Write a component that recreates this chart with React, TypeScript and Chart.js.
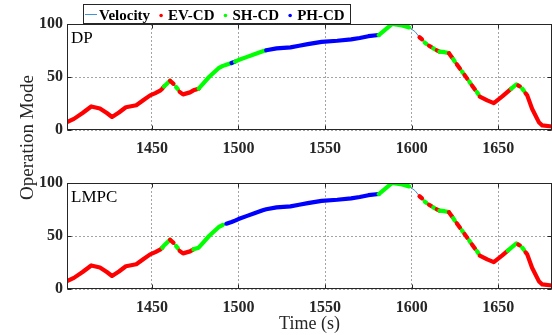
import { useEffect, useRef } from 'react';
import { Chart, registerables } from 'chart.js';

Chart.register(...registerables);

// ---------------- data ----------------
const timeS = [
  1401, 1405, 1410, 1415, 1420, 1424, 1427, 1431, 1435, 1441,
  1445, 1449, 1452, 1455, 1456, 1457, 1460.5, 1462.5, 1464, 1465,
  1466, 1468, 1472, 1474, 1477, 1480, 1483, 1488.5, 1491, 1493,
  1496, 1498, 1500, 1505, 1510, 1514, 1516, 1522, 1530, 1535,
  1540, 1548, 1557, 1565, 1570, 1575, 1581, 1588.7, 1593.5, 1598.5,
  1602, 1604.5, 1606, 1607.5, 1608.5, 1610, 1611.5, 1612.5, 1613.5, 1614.5,
  1616, 1619, 1621.5, 1623.5, 1624, 1625, 1626, 1628, 1629, 1630,
  1630.5, 1632.2, 1633.2, 1634.2, 1634.8, 1636.6, 1637.6, 1638.6, 1639.3, 1643.6,
  1647.4, 1652.3, 1655.5, 1657.5, 1660.5, 1661.5, 1662.5, 1663.8, 1665, 1665.8,
  1666.7, 1669.5, 1673.4, 1675.4, 1681,
];

const velocityKmh = [
  7.4, 10.5, 16.0, 22.2, 20.3, 16.0, 12.3, 16.5, 21.5, 23.3,
  28.0, 32.7, 34.8, 37.4, 39.0, 41.0, 46.5, 43.5, 40.5, 38.5,
  36.0, 33.6, 35.5, 37.4, 39.0, 44.5, 50.0, 58.3, 60.5, 61.6,
  63.2, 64.5, 66.0, 69.0, 72.0, 74.2, 75.2, 77.0, 78.0, 79.5,
  81.0, 83.2, 84.2, 85.5, 86.8, 88.5, 89.6, 100, 99.0, 96.8,
  92.7, 87.5, 85.5, 82.5, 81.2, 79.5, 78.0, 77.0, 76.0, 75.2,
  74.0, 73.4, 72.5, 68.0, 66.7, 64.3, 62.0, 57.5, 55.2, 53.0,
  51.8, 48.0, 45.7, 43.4, 42.0, 38.0, 35.8, 33.5, 31.5, 28.0,
  25.4, 31.7, 36.2, 39.0, 43.0, 42.0, 41.0, 39.0, 36.5, 34.5,
  32.7, 20.0, 7.4, 4.3, 3.3,
];

// mode of the segment that starts at each sample ('' = velocity line only)
const modeDP = [
  'EV', 'EV', 'EV', 'EV', 'EV', 'EV', 'EV', 'EV', 'EV', 'EV',
  'EV', 'EV', 'EV', 'EV', 'EV', 'SH', 'EV', '', 'SH', '',
  'EV', 'EV', 'EV', 'EV', 'SH', 'SH', 'SH', 'SH', 'SH', 'SH',
  'PH', 'SH', 'SH', 'SH', 'SH', 'SH', 'PH', 'PH', 'PH', 'PH',
  'PH', 'PH', 'PH', 'PH', 'PH', 'PH', 'SH', 'SH', 'SH', '',
  '', 'EV', '', 'SH', '', 'EV', '', 'SH', '', 'EV',
  'SH', 'SH', 'EV', '', 'SH', '', 'EV', '', 'SH', '',
  'EV', '', 'SH', '', 'EV', '', 'SH', '', 'EV', 'EV',
  'EV', 'EV', 'EV', 'SH', 'SH', 'EV', '', 'SH', '', 'EV',
  'EV', 'EV', 'EV', 'EV', '',
];

const modeLMPC = [
  'EV', 'EV', 'EV', 'EV', 'EV', 'EV', 'EV', 'EV', 'EV', 'EV',
  'EV', 'EV', 'EV', 'EV', 'SH', 'SH', 'EV', '', 'SH', '',
  'EV', 'EV', 'EV', 'SH', 'SH', 'SH', 'SH', 'SH', '', 'PH',
  'PH', 'PH', 'PH', 'PH', 'PH', 'PH', 'PH', 'PH', 'PH', 'PH',
  'PH', 'PH', 'PH', 'PH', 'PH', 'PH', 'SH', 'SH', 'SH', '',
  '', 'EV', '', 'SH', '', 'EV', '', 'SH', '', 'EV',
  'SH', 'SH', 'EV', '', 'SH', '', 'EV', '', 'SH', '',
  'EV', '', 'SH', '', 'EV', '', 'SH', '', 'EV', 'EV',
  'EV', 'EV', 'SH', 'SH', 'SH', 'EV', '', 'SH', '', 'EV',
  'EV', 'EV', 'EV', 'EV', '',
];

const xTickValues = [1450, 1500, 1550, 1600, 1650];
const yTickValues = [0, 50, 100];
const xRange = [1401, 1681];
const yRange = [0, 100];

const legendLabels = ['Velocity', 'EV-CD', 'SH-CD', 'PH-CD'];
const subplotLabels = ['DP', 'LMPC'];
const yTitle = 'Operation Mode';
const xTitle = 'Time (s)';

// ---------------- styles ----------------
const FONT = "'Liberation Serif', 'Times New Roman', serif";
const AXIS_COLOR = '#262626';
const VEL_COLOR = '#3f93d8';
const MODE_COLORS: Record<string, string> = {
  EV: '#ff0000',
  SH: '#00ff00',
  PH: '#0000ff',
};
const legendColors = [VEL_COLOR, MODE_COLORS.EV, MODE_COLORS.SH, MODE_COLORS.PH];

const W = 552;
const H = 335;

function colorFor(m: string) {
  return MODE_COLORS[m] || 'rgba(0,0,0,0)';
}

type Extra = { label: string; legend: boolean; titles: boolean };

function framePlugin(extra: Extra) {
  return {
    id: 'frame' + extra.label,
    afterDraw(chart: any) {
      const { ctx, chartArea: a, scales } = chart;
      ctx.save();
      ctx.strokeStyle = AXIS_COLOR;
      ctx.lineWidth = 1;
      const L = a.left + 0.5;
      const R = a.right - 0.5;
      const T = a.top + 0.5;
      const B = a.bottom - 0.5;
      ctx.strokeRect(L, T, R - L, B - T);
      ctx.beginPath();
      for (const v of xTickValues) {
        const px = Math.round(scales.x.getPixelForValue(v)) + 0.5;
        ctx.moveTo(px, B);
        ctx.lineTo(px, B - 4);
        ctx.moveTo(px, T);
        ctx.lineTo(px, T + 4);
      }
      for (const v of yTickValues) {
        const py = Math.round(scales.y.getPixelForValue(v)) + 0.5;
        ctx.moveTo(L, py);
        ctx.lineTo(L + 4, py);
        ctx.moveTo(R, py);
        ctx.lineTo(R - 4, py);
      }
      ctx.stroke();

      // subplot label
      ctx.fillStyle = '#000';
      ctx.font = `17px ${FONT}`;
      ctx.textAlign = 'left';
      ctx.textBaseline = 'alphabetic';
      ctx.fillText(extra.label, a.left + 4, a.top + 18.5);

      if (extra.legend) {
        const bx = 83.5;
        const by = 4.5;
        const bw = 267;
        const bh = 19;
        ctx.fillStyle = '#fff';
        ctx.fillRect(bx, by, bw, bh);
        ctx.strokeStyle = AXIS_COLOR;
        ctx.strokeRect(bx, by, bw, bh);
        ctx.font = `bold 15px ${FONT}`;
        ctx.textBaseline = 'alphabetic';
        const midY = 14.5;
        let x = bx + 1.5;
        legendLabels.forEach((lab, i) => {
          if (i === 0) {
            ctx.strokeStyle = legendColors[i];
            ctx.lineWidth = 1;
            ctx.beginPath();
            ctx.moveTo(x, midY);
            ctx.lineTo(x + 12, midY);
            ctx.stroke();
            x += 14;
          } else {
            x += 11;
            ctx.fillStyle = legendColors[i];
            ctx.beginPath();
            ctx.arc(x, midY + 1, 1.8, 0, Math.PI * 2);
            ctx.fill();
            x += 7;
          }
          ctx.fillStyle = '#000';
          ctx.fillText(lab, x, 20);
          x += ctx.measureText(lab).width;
        });
      }

      if (extra.titles) {
        ctx.fillStyle = AXIS_COLOR;
        ctx.font = `18px ${FONT}`;
        ctx.textAlign = 'center';
        ctx.textBaseline = 'alphabetic';
        ctx.fillText(xTitle, (a.left + a.right) / 2, 329);
        ctx.save();
        ctx.translate(33, 137.5);
        ctx.rotate(-Math.PI / 2);
        ctx.font = `19px ${FONT}`;
        ctx.fillText(yTitle, 0, 0);
        ctx.restore();
      }
      ctx.restore();
    },
  };
}

function makeChart(
  canvas: HTMLCanvasElement,
  modes: string[],
  extra: Extra,
  padTop: number,
  padBottom: number,
) {
  const points = timeS.map((t, i) => ({ x: t, y: velocityKmh[i] }));
  const tickFont = { family: FONT, size: 16, weight: 'bold' as const };
  return new Chart(canvas, {
    type: 'line',
    data: {
      datasets: [
        {
          label: 'Mode',
          data: points,
          borderWidth: 4.2,
          pointRadius: 0,
          tension: 0,
          borderCapStyle: 'round',
          borderJoinStyle: 'round',
          borderColor: '#ff0000',
          segment: {
            borderColor: (c: any) => colorFor(modes[c.p0DataIndex]),
          },
          order: 0,
        } as any,
        {
          label: legendLabels[0],
          data: points,
          borderWidth: 1,
          borderColor: VEL_COLOR,
          pointRadius: 0,
          tension: 0,
          order: 1,
        },
      ],
    },
    options: {
      animation: false,
      responsive: false,
      maintainAspectRatio: false,
      devicePixelRatio: 1,
      events: [],
      layout: { padding: { top: padTop, bottom: padBottom, left: 0, right: 0 } },
      plugins: {
        legend: { display: false },
        tooltip: { enabled: false },
        title: { display: false },
      },
      scales: {
        x: {
          type: 'linear',
          min: xRange[0],
          max: xRange[1],
          afterBuildTicks: (s: any) => {
            s.ticks = xTickValues.map((v) => ({ value: v }));
          },
          afterFit: (s: any) => {
            s.height = 30;
          },
          ticks: {
            font: tickFont,
            color: AXIS_COLOR,
            padding: 9,
            maxRotation: 0,
            autoSkip: false,
            callback: (v: any) => String(v),
          },
          grid: { color: 'rgba(90,90,90,0.55)', lineWidth: 1, drawTicks: false },
          border: { display: false, dash: [2, 2] },
        },
        y: {
          type: 'linear',
          min: yRange[0],
          max: yRange[1],
          afterBuildTicks: (s: any) => {
            s.ticks = yTickValues.map((v) => ({ value: v }));
          },
          afterFit: (s: any) => {
            s.width = 67;
          },
          ticks: {
            font: tickFont,
            color: AXIS_COLOR,
            padding: 4,
            autoSkip: false,
            callback: (v: any) => String(v),
          },
          grid: { color: 'rgba(90,90,90,0.55)', lineWidth: 1, drawTicks: false },
          border: { display: false, dash: [2, 2] },
        },
      },
    },
    plugins: [framePlugin(extra)],
  });
}

export default function App() {
  const topRef = useRef<HTMLCanvasElement>(null);
  const botRef = useRef<HTMLCanvasElement>(null);

  useEffect(() => {
    if (!topRef.current || !botRef.current) return;
    // top axes: plot area 24..130
    const c1 = makeChart(topRef.current, modeDP, { label: subplotLabels[0], legend: true, titles: false }, 24, H - 130 - 30);
    // bottom axes: plot area 183..289
    const c2 = makeChart(botRef.current, modeLMPC, { label: subplotLabels[1], legend: false, titles: true }, 183, H - 289 - 30);
    return () => {
      c1.destroy();
      c2.destroy();
    };
  }, []);

  const cStyle: React.CSSProperties = { position: 'absolute', left: 0, top: 0, width: W, height: H, display: 'block' };
  return (
    <div style={{ position: 'fixed', left: 0, top: 0, width: W, height: H, background: '#fff' }}>
      <canvas ref={botRef} width={W} height={H} style={cStyle} />
      <canvas ref={topRef} width={W} height={H} style={cStyle} />
    </div>
  );
}
